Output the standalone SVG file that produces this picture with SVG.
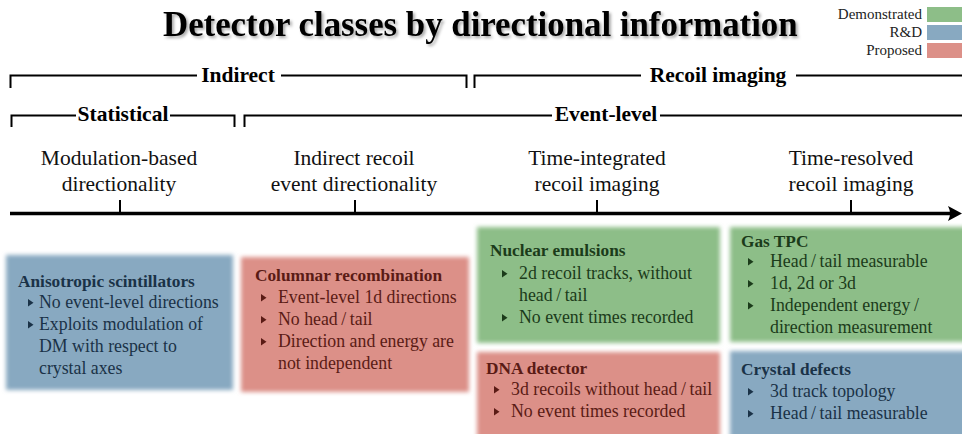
<svg xmlns="http://www.w3.org/2000/svg" width="962" height="434" viewBox="0 0 962 434" font-family="'Liberation Serif', 'Times New Roman', serif">
<defs>
<filter id="soft" x="-10%" y="-10%" width="120%" height="120%"><feGaussianBlur stdDeviation="2.2"/></filter>
<filter id="shadow" x="-5%" y="-30%" width="110%" height="160%"><feDropShadow dx="2" dy="2" stdDeviation="1.5" flood-color="#000" flood-opacity="0.35"/></filter>
<path id="tri" d="M0,0 L0,7.5 L5.5,3.75 Z"/>
<style>
text { font-family: 'Liberation Serif', 'Times New Roman', serif; }
.title{font-size:34.8px;font-weight:bold;fill:#000;}
.leg{font-size:15px;fill:#222;text-anchor:end;}
.brk{font-size:21.5px;font-weight:bold;fill:#000;text-anchor:middle;}
.cat{font-size:21.5px;fill:#111;text-anchor:middle;}
.hd{font-size:17.3px;font-weight:bold;}
.tx{font-size:17.8px;}
.line{stroke:#000;stroke-width:2;fill:none;}
.axis{stroke:#000;stroke-width:3.5;fill:none;}
.g{fill:#8dbe88;}
.b{fill:#88a9c1;}
.r{fill:#dc9088;}
.gt{fill:#1b3b1a;}
.bb{fill:#1a3247;}
.rt{fill:#5a1b15;}
</style>
</defs>
<rect width="962" height="434" fill="#fff"/>

<g id="title">
<text class="title" x="163" y="36" filter="url(#shadow)">Detector classes by directional information</text>
</g>

<g id="legend">
<rect class="g" x="927" y="7" width="36" height="15"/>
<rect class="b" x="927" y="25" width="36" height="15"/>
<rect class="r" x="927" y="43" width="36" height="15"/>
<text class="leg" x="922" y="19">Demonstrated</text>
<text class="leg" x="922" y="37">R&amp;D</text>
<text class="leg" x="922" y="55">Proposed</text>
</g>

<g id="connectors">
<path class="line" d="M10.5,88 V75.5 H197 M281,75.5 H466.5 V88"/>
<path class="line" d="M474.5,88 V75.5 H641 M796,75.5 H962"/>
<path class="line" d="M11.5,127 V115.5 H76 M170,115.5 H234.5 V127"/>
<path class="line" d="M244.5,127 V115.5 H552 M660,115.5 H962"/>
<path class="axis" d="M10,213.5 H952"/>
<path d="M962,213.5 L948,206 Q952,213.5 948,221 Z" fill="#000"/>
<path class="line" d="M120,200 V213 M355,200 V213 M597,200 V213 M851,200 V213"/>
</g>

<g id="bracket-labels">
<text class="brk" x="238" y="82">Indirect</text>
<text class="brk" x="718" y="82">Recoil imaging</text>
<text class="brk" x="123" y="121">Statistical</text>
<text class="brk" x="606" y="121">Event-level</text>
</g>

<g id="cat-modulation"><text class="cat" x="119" y="165">Modulation-based</text><text class="cat" x="119" y="191">directionality</text></g>
<g id="cat-indirect"><text class="cat" x="354" y="165">Indirect recoil</text><text class="cat" x="354" y="191">event directionality</text></g>
<g id="cat-integrated"><text class="cat" x="597" y="165">Time-integrated</text><text class="cat" x="597" y="191">recoil imaging</text></g>
<g id="cat-resolved"><text class="cat" x="851" y="165">Time-resolved</text><text class="cat" x="851" y="191">recoil imaging</text></g>

<g id="anisotropic">
<rect class="b" x="6" y="255" width="227" height="135" filter="url(#soft)"/>
<g class="bb">
<text class="hd" x="18" y="287">Anisotropic scintillators</text>
<use href="#tri" x="28" y="299"/>
<text class="tx" x="39" y="308">No event-level directions</text>
<use href="#tri" x="28" y="321"/>
<text class="tx" x="39" y="330">Exploits modulation of</text>
<text class="tx" x="39" y="352">DM with respect to</text>
<text class="tx" x="39" y="374">crystal axes</text>
</g>
</g>

<g id="columnar">
<rect class="r" x="241" y="257" width="228" height="135" filter="url(#soft)"/>
<g class="rt">
<text class="hd" x="255" y="281">Columnar recombination</text>
<use href="#tri" x="261" y="294"/>
<text class="tx" x="278" y="303">Event-level 1d directions</text>
<use href="#tri" x="261" y="316"/>
<text class="tx" x="278" y="325">No head&#8201;/&#8201;tail</text>
<use href="#tri" x="261" y="338"/>
<text class="tx" x="278" y="347">Direction and energy are</text>
<text class="tx" x="278" y="369">not independent</text>
</g>
</g>

<g id="emulsions">
<rect class="g" x="477" y="227" width="243" height="116" filter="url(#soft)"/>
<g class="gt">
<text class="hd" x="490" y="256">Nuclear emulsions</text>
<use href="#tri" x="502" y="270"/>
<text class="tx" x="519" y="279">2d recoil tracks, without</text>
<text class="tx" x="519" y="301">head&#8201;/&#8201;tail</text>
<use href="#tri" x="502" y="314"/>
<text class="tx" x="519" y="323">No event times recorded</text>
</g>
</g>

<g id="gastpc">
<rect class="g" x="730" y="227" width="240" height="115" filter="url(#soft)"/>
<g class="gt">
<text class="hd" x="741" y="247">Gas TPC</text>
<use href="#tri" x="748" y="258"/>
<text class="tx" x="770" y="267">Head&#8201;/&#8201;tail measurable</text>
<use href="#tri" x="748" y="280"/>
<text class="tx" x="770" y="289">1d, 2d or 3d</text>
<use href="#tri" x="748" y="302"/>
<text class="tx" x="770" y="311">Independent energy&#8201;/</text>
<text class="tx" x="770" y="333">direction measurement</text>
</g>
</g>

<g id="dna">
<rect class="r" x="477" y="352" width="243" height="90" filter="url(#soft)"/>
<g class="rt">
<text class="hd" x="486" y="374">DNA detector</text>
<use href="#tri" x="494" y="386"/>
<text class="tx" x="511" y="395">3d recoils without head&#8201;/&#8201;tail</text>
<use href="#tri" x="494" y="408"/>
<text class="tx" x="511" y="417">No event times recorded</text>
</g>
</g>

<g id="crystal">
<rect class="b" x="730" y="351" width="240" height="90" filter="url(#soft)"/>
<g class="bb">
<text class="hd" x="741" y="375">Crystal defects</text>
<use href="#tri" x="748" y="388"/>
<text class="tx" x="770" y="397">3d track topology</text>
<use href="#tri" x="748" y="410"/>
<text class="tx" x="770" y="419">Head&#8201;/&#8201;tail measurable</text>
</g>
</g>
</svg>
